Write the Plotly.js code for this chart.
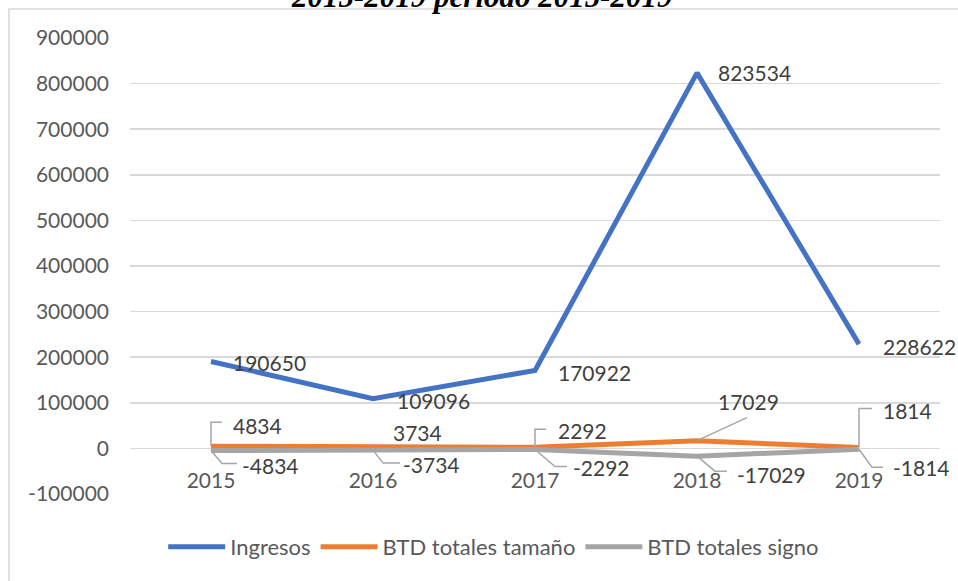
<!DOCTYPE html>
<html><head><meta charset="utf-8">
<script src="https://cdn.plot.ly/plotly-3.0.1.min.js"></script>
<style>html,body{margin:0;padding:0;background:#fff;}#chart{width:958px;height:581px;}</style>
</head><body><div id="chart"></div>
<script>
// ---- data ----
const years = ['2015', '2016', '2017', '2018', '2019'];
const ingresos = [190650, 109096, 170922, 823534, 228622];
const btdTamano = [4834, 3734, 2292, 17029, 1814];
const btdSigno = [-4834, -3734, -2292, -17029, -1814];
const seriesNames = ['Ingresos', 'BTD totales tamaño', 'BTD totales signo'];
const yTicks = [-100000, 0, 100000, 200000, 300000, 400000, 500000, 600000, 700000, 800000, 900000];
const titleText = '2015-2019 periodo 2015-2019';

// ---- label placement (pixels, left edge / vertical centre offset from point; +y = up) ----
const ingLbl = [[20, -1], [22, -2], [21, -2], [19, 0], [22, -2]];
const tamLbl = [[20, 21], [18, 14], [21, 17], [19, 39], [22, 37]];
const sigLbl = [[29, -15], [28, -14], [36, -18], [38, -18], [32, -18]];
const tamLead = ['M0,0 L0,24 L11,24', null, 'M0,0 L0,18 L11,18', 'M0,0 L50,23', 'M0,0 L0,39 L13,39'];
const sigLead = ['M0,0 L11,-13 L26,-13', 'M0,0 L10,-13 L27,-13', 'M0,0 L20,-17 L32,-17', 'M0,0 L18,-15 L30,-15', 'M0,0 L13,-18 L24,-18'];

const FONT = 'Lato, "Open Sans", sans-serif';
const colors = ['#4472C4', '#ED7D31', '#A5A5A5'];
const seriesVals = [ingresos, btdTamano, btdSigno];
const fmt = v => String(v); // plain hyphen-minus, like the original

const traces = seriesVals.map((vals, i) => ({
  type: 'scatter', mode: 'lines', x: years, y: vals, name: seriesNames[i],
  line: {color: colors[i], width: 5}, hoverinfo: 'x+y'
}));

const annotations = [];
const shapes = [];
function addLabels(vals, offs, leads) {
  vals.forEach((v, k) => {
    // category index k is the position of years[k] on the category axis
    annotations.push({
      x: k, y: v, xref: 'x', yref: 'y', text: fmt(v), showarrow: false,
      xanchor: 'left', yanchor: 'middle', xshift: offs[k][0], yshift: offs[k][1],
      font: {family: FONT, size: 21, color: '#404040'}
    });
    if (leads && leads[k]) {
      shapes.push({
        type: 'path', xref: 'x', yref: 'y', xsizemode: 'pixel', ysizemode: 'pixel',
        xanchor: k, yanchor: v, path: leads[k],
        line: {color: '#A6A6A6', width: 1.5}, layer: 'above'
      });
    }
  });
}
addLabels(ingresos, ingLbl, null);
addLabels(btdTamano, tamLbl, tamLead);
addLabels(btdSigno, sigLbl, sigLead);

// partially visible title above the chart frame
annotations.push({
  xref: 'paper', yref: 'paper', x: 0.4346, y: 1.048, xanchor: 'center', yanchor: 'bottom',
  text: titleText, showarrow: false,
  font: {family: '"Liberation Serif", "Times New Roman", serif', size: 31, color: '#000', style: 'italic', weight: 'bold'}
});

// chart frame (right edge runs past the picture)
shapes.push({
  type: 'rect', xref: 'paper', yref: 'paper', x0: -0.1494, x1: 1.031, y0: -0.25, y1: 1.0636,
  line: {color: '#D9D9D9', width: 1.5}, fillcolor: 'rgba(0,0,0,0)', layer: 'below'
});

const layout = {
  width: 958, height: 581,
  margin: {l: 130, r: 18, t: 38, b: 87, pad: 0},
  paper_bgcolor: '#fff', plot_bgcolor: '#fff',
  font: {family: FONT, size: 21, color: '#595959'},
  showlegend: true,
  legend: {orientation: 'h', x: 0.449, xanchor: 'center', y: -0.116, yanchor: 'middle',
    font: {family: FONT, size: 22, color: '#595959'}, itemwidth: 57, bgcolor: 'rgba(0,0,0,0)'},
  xaxis: {type: 'category', range: [-0.5, 4.5], anchor: 'free', position: 0.1,
    showgrid: false, zeroline: false, showline: false, ticks: '', ticklabelstandoff: 18,
    tickfont: {family: FONT, size: 21, color: '#595959'}, fixedrange: true},
  yaxis: {range: [-100000, 900000], tickvals: yTicks, ticktext: yTicks.map(fmt), showgrid: true,
    gridcolor: '#D9D9D9', gridwidth: 1.5, zeroline: false, showline: false, ticks: '',
    ticklabelstandoff: 20,
    tickfont: {family: FONT, size: 21, color: '#595959'}, fixedrange: true},
  annotations: annotations, shapes: shapes
};

Plotly.newPlot('chart', traces, layout, {displayModeBar: false, staticPlot: true});
</script></body></html>
